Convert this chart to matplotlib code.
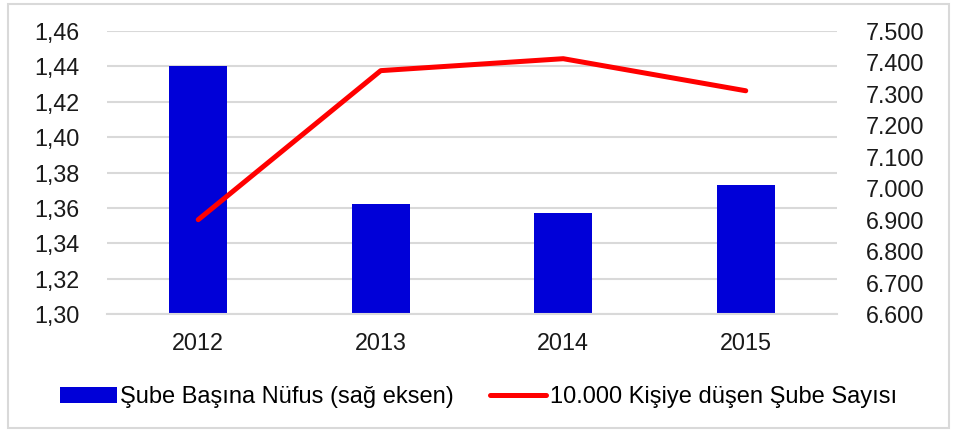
import matplotlib
matplotlib.use("Agg")
import matplotlib.pyplot as plt
from matplotlib.patches import Rectangle

plt.rcParams['font.family'] = ['Liberation Sans', 'DejaVu Sans']

years = ["2012", "2013", "2014", "2015"]
sube_basina_nufus = [1.440, 1.362, 1.357, 1.373]
kisi_basina_sube = [6.900, 7.374, 7.412, 7.310]

left_ticks = [1.30, 1.32, 1.34, 1.36, 1.38, 1.40, 1.42, 1.44, 1.46]
right_ticks = [6600, 6700, 6800, 6900, 7000, 7100, 7200, 7300, 7400, 7500]

fig = plt.figure(figsize=(9.57, 4.32), dpi=100)
ax = fig.add_axes([0.1118, 0.2731, 0.7628, 0.6551])

# outer chart border
fig.patches.append(Rectangle((8 / 957, 4 / 432), 941 / 957, 424 / 432,
                             transform=fig.transFigure, fill=False,
                             edgecolor="#d9d9d9", linewidth=1.5))

x = range(len(years))
bars = ax.bar(x, sube_basina_nufus, width=0.32, color="#0000d8", zorder=2,
              label="Şube Başına Nüfus (sağ eksen)")
ax.set_ylim(1.30, 1.46)
ax.set_yticks(left_ticks)
ax.set_yticklabels([f"{v:.2f}".replace(".", ",") for v in left_ticks])
ax.set_xlim(-0.5, 3.5)
ax.set_xticks(list(x))
ax.set_xticklabels(years)
ax.grid(axis="y", color="#d9d9d9", linewidth=1.5, zorder=0)
ax.set_axisbelow(True)
for s in ax.spines.values():
    s.set_visible(False)
ax.spines["bottom"].set_visible(True)
ax.spines["bottom"].set_color("#d9d9d9")
ax.spines["bottom"].set_linewidth(1.5)
ax.tick_params(length=0, labelsize=16.8, colors="#1a1a1a")
ax.tick_params(axis="y", pad=20)
ax.tick_params(axis="x", pad=13)

ax2 = ax.twinx()
line, = ax2.plot(list(x), [v * 1000 for v in kisi_basina_sube], color="#ff0000",
                 linewidth=3.6, solid_capstyle="round", zorder=3,
                 label="10.000 Kişiye düşen Şube Sayısı")
ax2.set_ylim(6600, 7500)
ax2.set_yticks(right_ticks)
ax2.set_yticklabels([f"{v / 1000:.3f}" for v in right_ticks])
for s in ax2.spines.values():
    s.set_visible(False)
ax2.tick_params(length=0, labelsize=16.8, colors="#1a1a1a", pad=21)

fig.legend(handles=[bars, line], loc="center", bbox_to_anchor=(0.5, 0.08),
           ncol=2, frameon=False, fontsize=17, handlelength=2.4,
           handletextpad=0.15, columnspacing=1.5)

fig.savefig("out.png", dpi=100)
